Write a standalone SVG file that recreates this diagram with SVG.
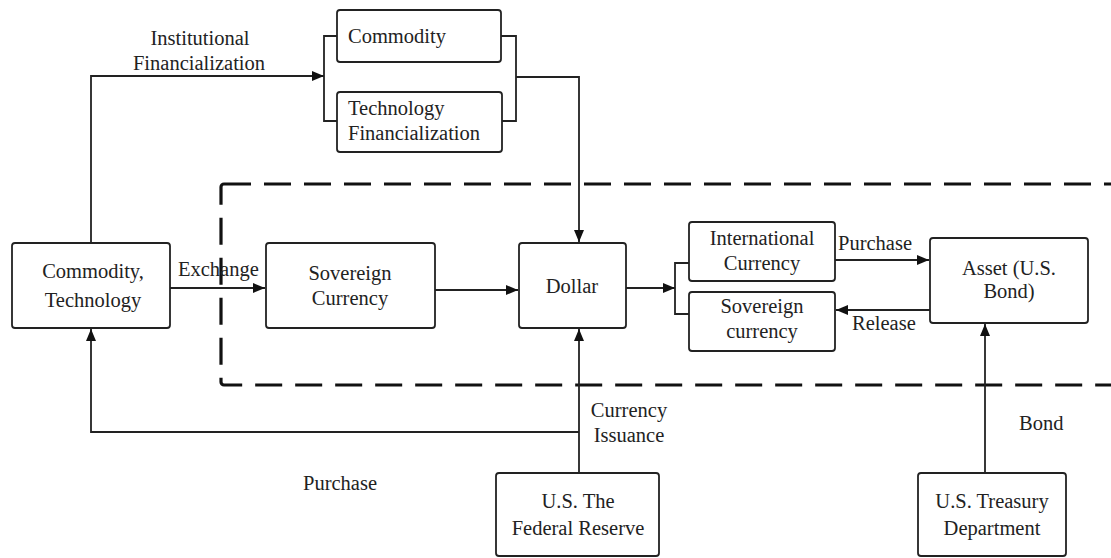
<svg xmlns="http://www.w3.org/2000/svg" width="1111" height="558" viewBox="0 0 1111 558">
<style>
.box{fill:#fff;stroke:#222;stroke-width:1.8}
.ln{fill:none;stroke:#222;stroke-width:1.8}
.dash{fill:none;stroke:#111;stroke-width:3.2;stroke-dasharray:27 13}
.t{font-family:'Liberation Serif','DejaVu Serif',serif;font-size:20.5px;fill:#222}
.c{text-anchor:middle}
</style>
<defs>
<marker id="ah" viewBox="0 0 12 10" refX="12" refY="5" markerWidth="12" markerHeight="10" markerUnits="userSpaceOnUse" orient="auto">
<path d="M0,0 L12,5 L0,10 Z" fill="#111"/>
</marker>
</defs>
<rect class="dash" x="221" y="184" width="893" height="201" rx="3"/>
<g id="connectors">
<path class="ln" d="M91,243 V76 H324" marker-end="url(#ah)"/>
<path class="ln" d="M337,36 H324 V121 H337"/>
<path class="ln" d="M501,36 H516 V121 H502"/>
<path class="ln" d="M516,77 H579 V242" marker-end="url(#ah)"/>
<path class="ln" d="M170,288 H265" marker-end="url(#ah)"/>
<path class="ln" d="M435,290 H518" marker-end="url(#ah)"/>
<path class="ln" d="M626,288 H675" marker-end="url(#ah)"/>
<path class="ln" d="M689,263 H675 V314 H689"/>
<path class="ln" d="M835,260 H929" marker-end="url(#ah)"/>
<path class="ln" d="M930,310 H836" marker-end="url(#ah)"/>
<path class="ln" d="M579,473 V329" marker-end="url(#ah)"/>
<path class="ln" d="M579,432 H91 V329" marker-end="url(#ah)"/>
<path class="ln" d="M985,473 V324" marker-end="url(#ah)"/>
<g class="t">
<text x="200" y="45" class="c">Institutional</text>
<text x="199" y="70" class="c">Financialization</text>
<text x="178" y="276">Exchange</text>
<text x="838" y="250">Purchase</text>
<text x="852" y="330">Release</text>
<text x="629" y="417" class="c">Currency</text>
<text x="629" y="442" class="c">Issuance</text>
<text x="303" y="490">Purchase</text>
<text x="1019" y="430">Bond</text>
</g>
</g>
<g id="commodity" class="t">
<rect class="box" x="337" y="10" width="164" height="52" rx="3"/>
<text x="348" y="43">Commodity</text>
</g>
<g id="techfin" class="t">
<rect class="box" x="337" y="92" width="165" height="60" rx="3"/>
<text x="348" y="115">Technology</text>
<text x="348" y="140">Financialization</text>
</g>
<g id="commodity-technology" class="t">
<rect class="box" x="12" y="243" width="158" height="85" rx="3"/>
<text x="93" y="278" class="c">Commodity,</text>
<text x="93" y="307" class="c">Technology</text>
</g>
<g id="sovereign-currency" class="t">
<rect class="box" x="266" y="243" width="169" height="85" rx="3"/>
<text x="350" y="280" class="c">Sovereign</text>
<text x="350" y="305" class="c">Currency</text>
</g>
<g id="dollar" class="t">
<rect class="box" x="519" y="243" width="107" height="85" rx="3"/>
<text x="572" y="293" class="c">Dollar</text>
</g>
<g id="international-currency" class="t">
<rect class="box" x="689" y="222" width="146" height="59" rx="3"/>
<text x="762" y="245" class="c">International</text>
<text x="762" y="270" class="c">Currency</text>
</g>
<g id="sovereign-currency-2" class="t">
<rect class="box" x="689" y="292" width="146" height="59" rx="3"/>
<text x="762" y="313" class="c">Sovereign</text>
<text x="762" y="338" class="c">currency</text>
</g>
<g id="asset" class="t">
<rect class="box" x="930" y="238" width="158" height="85" rx="3"/>
<text x="1009" y="275" class="c">Asset (U.S.</text>
<text x="1009" y="298" class="c">Bond)</text>
</g>
<g id="federal-reserve" class="t">
<rect class="box" x="496" y="473" width="163" height="83" rx="3"/>
<text x="578" y="508" class="c">U.S. The</text>
<text x="578" y="535" class="c">Federal Reserve</text>
</g>
<g id="treasury" class="t">
<rect class="box" x="918" y="473" width="148" height="83" rx="3"/>
<text x="992" y="508" class="c">U.S. Treasury</text>
<text x="992" y="535" class="c">Department</text>
</g>
</svg>
